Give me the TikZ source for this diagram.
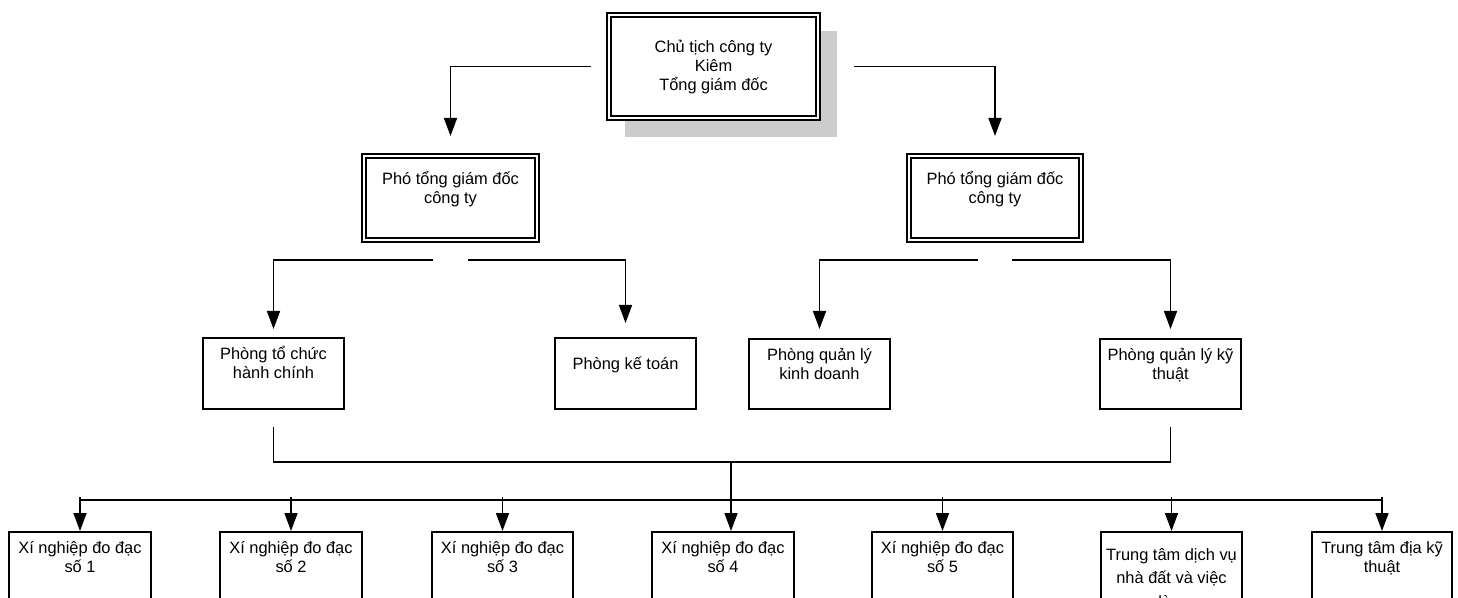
\documentclass[tikz,border=0pt]{standalone}
\usepackage{fontspec}
\setmainfont{Liberation Sans}
\usetikzlibrary{arrows.meta,calc}
\newlength\pxu \setlength\pxu{0.75pt}
\newcommand\boxtext[4]{\parbox[c][#2\pxu][t]{#1\pxu}{\centering\fontsize{12.3pt}{14.25pt}\selectfont\vspace*{#3\pxu}\rule{0pt}{12pt}#4\par}}
\definecolor{shadowgray}{HTML}{CCCCCC}
\tikzset{
  box/.style={draw, line width=1.2pt, fill=white, inner sep=0pt, outer sep=0pt, anchor=north west},
  dbox/.style={draw, double, line width=1.1pt, double distance=2.1pt, fill=white, inner sep=0pt, outer sep=0pt, anchor=north west},
  conn/.style={line width=1.2pt},
  arr/.style={line width=1.2pt, -{Triangle[width=9.75pt,length=13.5pt]}}
}
\begin{document}
\begin{tikzpicture}[x=0.75pt,y=-0.75pt]
\useasboundingbox (0,0) rectangle (1458,598);
\clip (0,0) rectangle (1458,598);
% shadow of top box
\fill[shadowgray] (625,31) rectangle (837,137);
% top box
\node[dbox] (ceo) at (609,15) {\boxtext{209}{103}{22}{Chủ tịch công ty\\Kiêm\\Tổng giám đốc}};
% vice directors
\node[dbox] (vpl) at (364,156) {\boxtext{173}{84}{13}{Phó tổng giám đốc\\công ty}};
\node[dbox] (vpr) at (909,156) {\boxtext{172}{84}{13}{Phó tổng giám đốc\\công ty}};
% departments
\node[box] (ptc) at (203,338) {\boxtext{141}{71}{5}{Phòng tổ chức\\hành chính}};
\node[box] (pkt) at (555,338) {\boxtext{141}{71}{15}{Phòng kế toán}};
\node[box] (pkd) at (749,339) {\boxtext{141}{70}{5}{Phòng quản lý\\kinh doanh}};
\node[box] (pkth) at (1100,339) {\boxtext{141}{70}{5}{Phòng quản lý kỹ\\thuật}};
% units
\node[box] (b1) at (9,532) {\boxtext{142}{72}{5}{Xí nghiệp đo đạc\\số 1}};
\node[box] (b2) at (220,532) {\boxtext{142}{72}{5}{Xí nghiệp đo đạc\\số 2}};
\node[box] (b3) at (432,532) {\boxtext{141}{72}{5}{Xí nghiệp đo đạc\\số 3}};
\node[box] (b4) at (652,532) {\boxtext{142}{72}{5}{Xí nghiệp đo đạc\\số 4}};
\node[box] (b5) at (872,532) {\boxtext{141}{72}{5}{Xí nghiệp đo đạc\\số 5}};
\node[box] (b6) at (1101,532) {\boxtext{141}{72}{12}{Trung tâm dịch vụ\\[3.5pt]nhà đất và việc\\[3.5pt]làm}};
\node[box] (b7) at (1312,532) {\boxtext{140}{72}{5}{Trung tâm địa kỹ\\thuật}};
% connectors top
\draw[arr] ($(ceo.west)+(-18,0)$) -| ($(vpl.north)+(0,-20)$);
\draw[arr] ($(ceo.east)+(36,0)$) -| ($(vpr.north)+(0,-20)$);
% level 2
\draw[arr] ($(vpl.south)+(-18,20)$) -| ($(ptc.north)+(0,-9)$);
\draw[arr] ($(vpl.south)+(17,20)$) -| ($(pkt.north)+(0,-15)$);
\draw[arr] ($(vpr.south)+(-17,20)$) -| ($(pkd.north)+(0,-10)$);
\draw[arr] ($(vpr.south)+(17,20)$) -| ($(pkth.north)+(0,-10)$);
% upper bus
\draw[conn] ($(ptc.south)+(0,18)$) |- ($(pkth.south)+(0,53)$) -- ($(pkth.south)+(0,18)$);
\draw[arr] ($(b4.north)+(8,-69)$) -- ($(b4.north)+(8,-1)$);
% lower bus
\draw[conn] ($(b1.north)+(0,-32)$) -- ($(b7.north)+(0,-32)$);
\foreach \b in {b1,b2,b3,b5,b6,b7}{
  \draw[arr] ($(\b.north)+(0,-35)$) -- ($(\b.north)+(0,-1)$);
}
\end{tikzpicture}
\end{document}
